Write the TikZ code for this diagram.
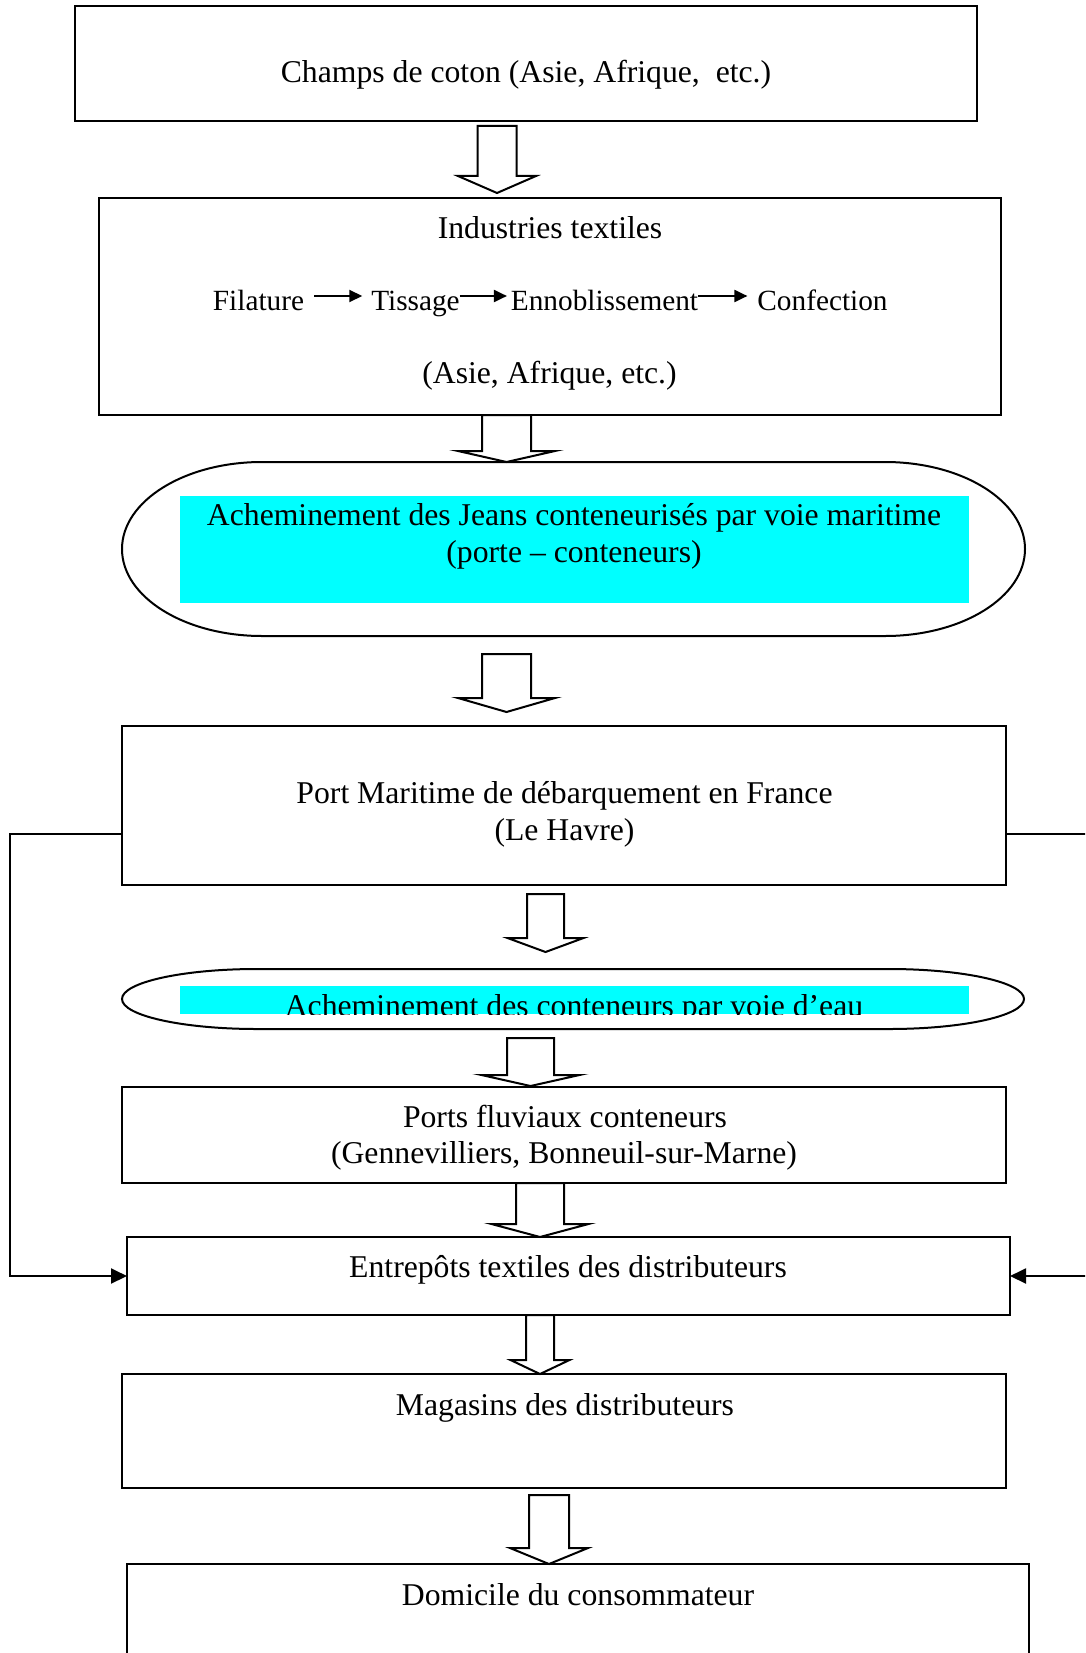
\documentclass[tikz,border=0pt]{standalone}
\usepackage{fontspec}
\setmainfont{Liberation Serif}
\usetikzlibrary{arrows.meta,calc}

\definecolor{aqua}{RGB}{0,255,255}

\tikzset{
  box/.style={draw, line width=2pt, inner sep=0pt, outer sep=0pt},
  frame/.style={inner sep=0pt, outer sep=0pt},
  outline/.style={draw, line width=2pt},
  lbl/.style={anchor=base, inner sep=0pt, outer sep=0pt, font=\fontsize{31.7}{37}\selectfont},
  steplbl/.style={anchor=base, inner sep=0pt, outer sep=0pt, font=\fontsize{29.3}{35}\selectfont},
  hollow/.style={draw, fill=white, line width=2pt, line join=miter},
  flow/.style={line width=2pt, -{Triangle[length=13pt,width=12pt]}},
  link/.style={line width=2pt, -{Triangle[length=16pt,width=15pt]}}
}

% Hollow block arrow running from the bottom of one node to the top of another.
% #1 x of the axis, #2 source node, #3 gap below source, #4 target node,
% #5 gap above target, #6 shaft half-width, #7 head half-width, #8 head length
\newcommand\hollowarrow[8]{%
  \draw[hollow] let \p1=(#2.south), \p2=(#4.north) in
    ({#1-#6},{\y1-#3pt}) -- ({#1-#6},{\y2+#5pt+#8pt}) -- ({#1-#7},{\y2+#5pt+#8pt})
    -- (#1,{\y2+#5pt}) -- ({#1+#7},{\y2+#5pt+#8pt}) -- ({#1+#6},{\y2+#5pt+#8pt})
    -- ({#1+#6},{\y1-#3pt}) -- cycle;
}

% Capsule outline round a node: straight top and bottom, elliptical ends.
% #1 node, #2 horizontal corner radius, #3 vertical corner radius
\newcommand\capsule[3]{%
  \pgfmathsetmacro\ck{0.5523*#2}%
  \pgfmathsetmacro\ch{0.5523*#3}%
  \draw[outline] ([xshift=#2pt]#1.north west) -- ([xshift=-#2pt]#1.north east)
    .. controls ([xshift={-#2pt+\ck pt}]#1.north east) and ([yshift=\ch pt]#1.east) .. (#1.east)
    .. controls ([yshift=-\ch pt]#1.east) and ([xshift={-#2pt+\ck pt}]#1.south east) .. ([xshift=-#2pt]#1.south east)
    -- ([xshift=#2pt]#1.south west)
    .. controls ([xshift={#2pt-\ck pt}]#1.south west) and ([yshift=-\ch pt]#1.west) .. (#1.west)
    .. controls ([yshift=\ch pt]#1.west) and ([xshift={#2pt-\ck pt}]#1.north west) .. ([xshift=#2pt]#1.north west)
    -- cycle;
}

\begin{document}
\begin{tikzpicture}[x=1pt,y=-1pt]
\useasboundingbox (0,0) rectangle (1085,1653);
\clip (0,0) rectangle (1085,1653);

% ---- boxes ----
\node[box, minimum width=902, minimum height=115] (champs) at (526,63.5) {};
\node[box, minimum width=902, minimum height=217] (industries) at (550,306.5) {};
\node[frame, minimum width=903, minimum height=174] (jeans) at (573.5,549) {};
\node[box, minimum width=884, minimum height=159] (port) at (564,805.5) {};
\node[frame, minimum width=902, minimum height=60] (eau) at (573,999) {};
\node[box, minimum width=884, minimum height=96] (ports) at (564,1135) {};
\node[box, minimum width=883, minimum height=78] (entrepot) at (568.5,1276) {};
\node[box, minimum width=884, minimum height=114] (magasins) at (564,1431) {};
\node[box, minimum width=902, minimum height=152] (domicile) at (578,1640) {};

\capsule{jeans}{140}{87}
\capsule{eau}{135}{30}

% ---- highlighted bands ----
\fill[aqua] (180,496) rectangle (969,603);
\fill[aqua] (180,986) rectangle (969,1014);

% ---- texts ----
\node[lbl] (champsT) at (526,83) {Champs de coton (Asie, Afrique,\ \ etc.)};
\node[lbl] (industriesT) at (550,239) {Industries textiles};
\node[steplbl] (filature) at (258.5,310) {Filature};
\node[steplbl] (tissage) at (415.5,310) {Tissage};
\node[steplbl] (ennob) at (604.5,310) {Ennoblissement};
\node[steplbl] (confection) at (822.5,310) {Confection};
\node[lbl] (asie) at (549.5,383) {(Asie, Afrique, etc.)};
\node[lbl] (jeansA) at (574,525) {Acheminement des Jeans conteneurisés par voie maritime};
\node[lbl] (jeansB) at (574,562) {(porte – conteneurs)};
\node[lbl] (portA) at (564.5,803) {Port Maritime de débarquement en France};
\node[lbl] (portB) at (564.5,840) {(Le Havre)};
\begin{scope}
  \clip (180,986) rectangle (969,1014);
  \node[lbl] (eauT) at (574,1016.5) {Acheminement des conteneurs par voie d’eau};
\end{scope}
\node[lbl] (portsA) at (565,1127) {Ports fluviaux conteneurs};
\node[lbl] (portsB) at (564,1163.5) {(Gennevilliers, Bonneuil-sur-Marne)};
\node[lbl] (entrepotT) at (568,1277) {Entrepôts textiles des distributeurs};
\node[lbl] (magasinsT) at (565,1415) {Magasins des distributeurs};
\node[lbl] (domicileT) at (578,1605) {Domicile du consommateur};

% ---- process chain inside the textile box ----
\coordinate (rowy) at (0,296);
\draw[flow, shorten <=10pt, shorten >=9pt] (filature.east |- rowy) -- (tissage.west |- rowy);
\draw[flow, shorten >=4pt] (tissage.east |- rowy) -- (ennob.west |- rowy);
\draw[flow, shorten >=10pt] (ennob.east |- rowy) -- (confection.west |- rowy);

% ---- side routes from the sea port to the warehouses ----
\draw[link] ([yshift=-28.5pt]port.west) -- ++(-112,0) |- (entrepot.west);
\draw[link] ([yshift=-28.5pt]port.east) -- ++(100,0) |- (entrepot.east);

% ---- main flow ----
\hollowarrow{497}{champs}{5}{industries}{5}{19.5}{39}{17}
\hollowarrow{506.5}{industries}{0}{jeans}{0}{24.5}{48.5}{11}
\hollowarrow{506.5}{jeans}{18}{port}{14}{24.5}{48.5}{14}
\hollowarrow{545.5}{port}{9}{eau}{17}{18.5}{38}{14}
\hollowarrow{530.5}{eau}{9}{ports}{1}{23.5}{49}{11}
\hollowarrow{540}{ports}{0}{entrepot}{0}{24}{48.5}{13}
\hollowarrow{540}{entrepot}{0}{magasins}{0}{14}{29.5}{14}
\hollowarrow{549}{magasins}{7}{domicile}{0}{20}{39}{16}
\end{tikzpicture}
\end{document}
